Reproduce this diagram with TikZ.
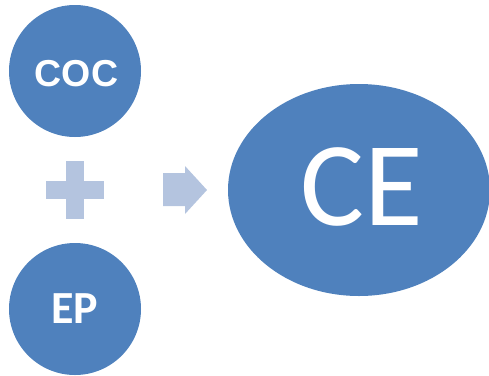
\documentclass[tikz,border=0pt]{standalone}
\usepackage{fontspec}
\setmainfont{Carlito}
\newfontfamily\arialfont{Liberation Sans}
\usetikzlibrary{shapes.geometric}
\definecolor{oblue}{HTML}{4F81BD}
\definecolor{olight}{HTML}{B4C4DF}

\begin{document}
\begin{tikzpicture}[x=1pt,y=-1pt,
	disc/.style={circle,fill=oblue,minimum size=132pt,inner sep=0pt},
	oval/.style={ellipse,fill=oblue,minimum width=262pt,minimum height=212pt,inner sep=0pt},
	lbl/.style={text=white,inner sep=0pt}]
	\useasboundingbox (0,0) rectangle (489,375);

	\node[disc] (coc) at (75,71) {};
	\node[disc] (ep) at (75,309) {};
	\node[lbl,font=\arialfont\bfseries\fontsize{37.5}{37.5}\selectfont] (coctext) at (76.5,74) {COC};
	\node[lbl,font=\bfseries\fontsize{46}{46}\selectfont] (eptext) at (75,309) {EP};

	\fill[olight] (66,161) rectangle (84,219);
	\fill[olight] (46,181) rectangle (104,199);

	\fill[olight] (163,173) -- (185,173) -- (185,166) -- (207,190) -- (185,214) -- (185,206) -- (163,206) -- cycle;

	\node[oval] (ce) at (359,190) {};
	\node[lbl,font=\fontsize{120}{120}\selectfont] (cetext) at (362,186.5) {CE};
\end{tikzpicture}
\end{document}
